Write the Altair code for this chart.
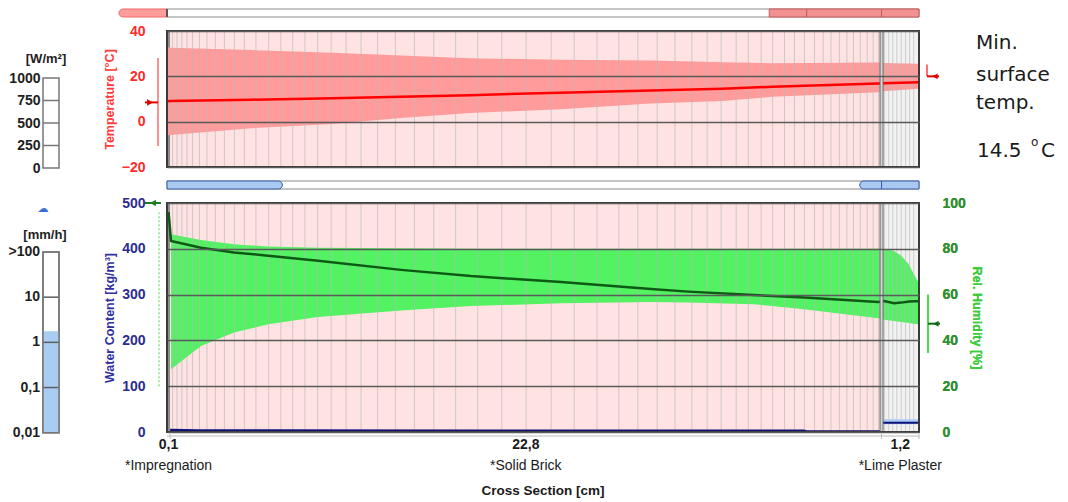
import math
import altair as alt
import pandas as pd

# ---------------- data ----------------
X_MAX = 24.1  # total cross section [cm]
layer_names = ["*Impregnation", "*Solid Brick", "*Lime Plaster"]
layer_thickness = ["0,1", "22,8", "1,2"]
layer_start = [0.0, 0.1, 22.9]
layer_end = [0.1, 22.9, 24.1]
layer_bg = ["#8E8E8E", "#FFE2E2", "#F2F2F2"]
layer_mid = [(a + b) / 2 for a, b in zip(layer_start, layer_end)]

mesh_brick = [0.18, 0.32, 0.48, 0.64, 0.82, 1.04, 1.28, 1.55, 1.84, 2.16, 2.48, 2.85,
              3.26, 3.65, 4.03, 4.42, 4.83, 5.26, 5.74, 6.22, 6.75, 7.32, 7.93, 8.55,
              9.25, 9.96, 10.73, 11.51, 12.31, 13.05, 13.78, 14.48, 15.09, 15.71, 16.28,
              16.82, 17.31, 17.76, 18.24, 18.63, 19.04, 19.41, 19.79, 20.11, 20.43, 20.75,
              21.03, 21.28, 21.55, 21.79, 22.0, 22.22, 22.44, 22.63, 22.81]
mesh_plaster = [23.0, 23.13, 23.26, 23.39, 23.53, 23.67, 23.8, 23.93]

temp_x = [0.0, 0.1, 2.7, 5.3, 7.5, 9.7, 12.6, 15.5, 17.8, 19.4, 22.8, 22.95, 24.1]
temp_hi = [33.0, 32.6, 31.6, 30.4, 29.2, 28.0, 27.3, 27.0, 26.2, 25.8, 26.1, 25.9, 25.6]
temp_lo = [-6.0, -5.9, -2.9, -1.0, 1.6, 3.8, 5.5, 8.0, 9.1, 11.0, 13.0, 13.4, 14.5]
temp_mean = [9.0, 9.1, 9.7, 10.3, 11.0, 11.7, 12.8, 13.8, 14.5, 15.4, 16.8, 16.9, 17.4]

rh_x = [0.13, 1.09, 2.15, 3.24, 4.84, 7.5, 9.74, 12.63, 15.51, 16.7, 18.81, 20.42, 22.79,
        22.98, 23.3, 23.53, 23.78, 23.97, 24.1]
rh_hi = [86.4, 83.8, 82.0, 81.0, 80.5, 80.2, 80.0, 80.0, 80.0, 80.0, 80.0, 80.0, 80.0,
         80.0, 79.0, 77.0, 73.0, 68.0, 65.0]
rh_lo = [27.4, 37.6, 43.4, 47.0, 50.2, 53.1, 55.0, 56.2, 56.8, 56.5, 55.8, 53.6, 49.7,
         49.0, 48.5, 48.0, 47.6, 47.2, 47.0]
rh_mean_x = [0.05] + rh_x
rh_mean = [96.0, 83.4, 80.5, 78.4, 77.0, 74.8, 70.8, 68.1, 65.5, 62.4, 61.3, 59.8, 58.7, 56.8,
           57.2, 56.2, 56.5, 57.0, 57.1, 57.1]

wc_x = [0.1, 1.0, 10.0, 20.4, 20.5, 22.9]
wc_mean = [4.5, 3.5, 3.0, 3.0, 1.2, 1.2]
wc_pl_x = [22.95, 24.1]
wc_pl_mean = [20.0, 20.0]
wc_pl_lo = [17.0, 17.0]
wc_pl_hi = [28.0, 28.0]

# boundary climate indicators
temp_left_range = [-10.7, 28.1]
temp_left_now = 8.5
temp_right_range = [20.0, 25.2]
temp_right_now = 20.0
wc_left_range = [100, 483]
wc_left_now = 500
rh_right_range = [34.5, 60.0]
rh_right_now = 47.3

solar_ticks = [0, 250, 500, 750, 1000]
rain_ticks = [0.01, 0.1, 1, 10, 100]
rain_labels = ["0,01", "0,1", "1", "10", ">100"]
rain_now = 1.75

top_caps = [-1.54, 0.0]
top_segs_start = [19.3, 20.5, 22.9]
top_segs_end = [20.5, 22.9, 24.1]
blue_left = [0.0, 3.7]
blue_right_start = [22.2, 22.9]
blue_right_end = [22.9, 24.1]

note_lines = ["Min.", "surface", "temp."]
min_surface_temp = "14.5"

# ---------------- layout / styles ----------------
W, HT, HL, HS, GW = 752, 136, 229, 8, 16
GX = -124  # left edge of the rain gauge, relative to the moisture panel
LAB = "Liberation Sans"

xs = alt.Scale(domain=[0, X_MAX], nice=False, zero=False)
one = pd.DataFrame({"a": [0]})
layers_df = pd.DataFrame({"name": layer_names, "thick": layer_thickness, "start": layer_start,
                          "end": layer_end, "bg": layer_bg, "mid": layer_mid})
mesh_df = pd.DataFrame({"x": mesh_brick + mesh_plaster})
bound_df = pd.DataFrame({"x": [layer_start[2]]})


def X(field):
    return alt.X(field, scale=xs, axis=None)


def backgrounds(h):
    return alt.Chart(layers_df).mark_rect().encode(
        x=X("start:Q"), x2="end:Q", y=alt.value(0), y2=alt.value(h),
        color=alt.Color("bg:N", scale=None, legend=None))


def mesh():
    return alt.Chart(mesh_df).mark_rule(color="#B8B8B8", strokeWidth=1, opacity=0.65).encode(x=X("x:Q"))


def boundary():
    a = alt.Chart(bound_df).mark_rule(color="#6A6A6A", strokeWidth=4).encode(x=X("x:Q"))
    b = alt.Chart(bound_df).mark_rule(color="#D4D4D4", strokeWidth=2).encode(x=X("x:Q"))
    return [a, b]


def border(h):
    return alt.Chart(one).mark_rect(filled=False, stroke="#3A3A3A", strokeWidth=2).encode(
        x=alt.value(0), x2=alt.value(W), y=alt.value(0), y2=alt.value(h))


def axis_style(**kw):
    base = dict(ticks=False, domain=False, labelFont=LAB, labelFontWeight="bold", labelFontSize=14,
                titleFont=LAB, titleFontWeight="bold", titleFontSize=12.5, titlePadding=5)
    base.update(kw)
    return alt.Axis(**base)


# ---------------- temperature panel ----------------
ts = alt.Scale(domain=[-20, 40], nice=False, zero=False)
t_axis = axis_style(values=[-20, 0, 20, 40], grid=True, gridColor="#5A5A5A", gridWidth=1.5,
                    labelColor="#FF2A2A", labelPadding=22, title="Temperature [°C]",
                    titleColor="#FF3A3A", zindex=1)


def TY(field):
    return alt.Y(field, scale=ts, axis=t_axis)


temp_df = pd.DataFrame({"x": temp_x, "lo": temp_lo, "hi": temp_hi, "mean": temp_mean})
t_band = alt.Chart(temp_df).mark_area(color="#FF9B9B").encode(x=X("x:Q"), y=TY("lo:Q"), y2="hi:Q")
t_line = alt.Chart(temp_df).mark_line(color="#FF0000", strokeWidth=2.5).encode(x=X("x:Q"), y=TY("mean:Q"))

tl_df = pd.DataFrame({"lo": [temp_left_range[0]], "hi": [temp_left_range[1]], "v": [temp_left_now]})
tr_df = pd.DataFrame({"lo": [temp_right_range[0]], "hi": [temp_right_range[1]], "v": [temp_right_now]})
t_marks = [
    alt.Chart(tl_df).mark_rule(color="#FF6A6A", strokeWidth=1.5).encode(
        x=alt.value(-9), y=TY("lo:Q"), y2="hi:Q"),
    alt.Chart(tl_df).mark_rule(color="#E00000", strokeWidth=2).encode(
        x=alt.value(-22), x2=alt.value(-9), y=TY("v:Q")),
    alt.Chart(tl_df).mark_point(shape="triangle-right", filled=True, color="#E00000", size=45, opacity=1).encode(
        x=alt.value(-17), y=TY("v:Q")),
    alt.Chart(tr_df).mark_rule(color="#FF4040", strokeWidth=1.5).encode(
        x=alt.value(W + 8), y=TY("lo:Q"), y2="hi:Q"),
    alt.Chart(tr_df).mark_rule(color="#E00000", strokeWidth=2).encode(
        x=alt.value(W + 8), x2=alt.value(W + 20), y=TY("v:Q")),
    alt.Chart(tr_df).mark_point(shape="triangle-left", filled=True, color="#E00000", size=35, opacity=1).encode(
        x=alt.value(W + 16), y=TY("v:Q")),
]

note_y = [18, 50, 78]
notes = [alt.Chart(one).mark_text(font="DejaVu Sans", fontSize=20, align="left", baseline="alphabetic",
                                  color="#1A1A1A").encode(x=alt.value(809), y=alt.value(yy), text=alt.value(t))
         for t, yy in zip(note_lines, note_y)]
notes += [
    alt.Chart(one).mark_text(font="DejaVu Sans", fontSize=20, align="left", baseline="alphabetic",
                             color="#1A1A1A").encode(x=alt.value(810), y=alt.value(126), text=alt.value(min_surface_temp)),
    alt.Chart(one).mark_text(font="DejaVu Sans", fontSize=12, align="left", baseline="alphabetic",
                             color="#1A1A1A").encode(x=alt.value(864), y=alt.value(115), text=alt.value("o")),
    alt.Chart(one).mark_text(font="DejaVu Sans", fontSize=20, align="left", baseline="alphabetic",
                             color="#1A1A1A").encode(x=alt.value(874), y=alt.value(126), text=alt.value("C")),
]

temp_chart = alt.layer(
    backgrounds(HT), t_band, mesh(), t_line, *boundary(), border(HT), *t_marks, *notes
).properties(width=W, height=HT)

# ---------------- moisture panel ----------------
ws = alt.Scale(domain=[0, 500], nice=False, zero=False)
rs = alt.Scale(domain=[0, 100], nice=False, zero=False)
w_axis = axis_style(values=[0, 100, 200, 300, 400, 500], grid=True, gridColor="#5A5A5A", gridWidth=1.5,
                    labelColor="#2C2C8E", labelPadding=22, title="Water Content [kg/m³]",
                    titleColor="#3030A0", zindex=1)
r_axis = axis_style(orient="right", values=[0, 20, 40, 60, 80, 100], grid=False,
                    labelColor="#2F8F2F", labelPadding=23, title="Rel. Humidity [%]",
                    titleColor="#3CCB3C", titlePadding=4)


def WY(field):
    return alt.Y(field, scale=ws, axis=w_axis)


def RY(field):
    return alt.Y(field, scale=rs, axis=r_axis)


rh_df = pd.DataFrame({"x": rh_x, "lo": rh_lo, "hi": rh_hi})
rhm_df = pd.DataFrame({"x": rh_mean_x, "mean": rh_mean})
wc_df = pd.DataFrame({"x": wc_x, "mean": wc_mean})
wcp_df = pd.DataFrame({"x": wc_pl_x, "mean": wc_pl_mean, "lo": wc_pl_lo, "hi": wc_pl_hi})

rh_band = alt.Chart(rh_df).mark_area(color="#52F263").encode(x=X("x:Q"), y=RY("lo:Q"), y2="hi:Q")
rh_lines = alt.layer(
    alt.Chart(rhm_df).mark_line(color="#0E5A14", strokeWidth=2.5).encode(x=X("x:Q"), y=RY("mean:Q")),
    alt.Chart(pd.DataFrame({"lo": [rh_right_range[0]], "hi": [rh_right_range[1]]}))
    .mark_rule(color="#4BE04B", strokeWidth=2).encode(x=alt.value(W + 9), y=RY("lo:Q"), y2="hi:Q"),
    alt.Chart(pd.DataFrame({"v": [rh_right_now]})).mark_rule(color="#0E6A14", strokeWidth=2).encode(
        x=alt.value(W + 9), x2=alt.value(W + 21), y=RY("v:Q")),
    alt.Chart(pd.DataFrame({"v": [rh_right_now]})).mark_point(
        shape="triangle-left", filled=True, color="#0E6A14", size=35, opacity=1).encode(
        x=alt.value(W + 17), y=RY("v:Q")),
)
wc_layer = alt.layer(
    alt.Chart(wcp_df).mark_area(color="#A8CCF4").encode(x=X("x:Q"), y=WY("lo:Q"), y2="hi:Q"),
    alt.Chart(wc_df).mark_line(color="#10107A", strokeWidth=2.5).encode(x=X("x:Q"), y=WY("mean:Q")),
    alt.Chart(wcp_df).mark_line(color="#10107A", strokeWidth=2).encode(x=X("x:Q"), y=WY("mean:Q")),
    alt.Chart(pd.DataFrame({"lo": [wc_left_range[0]], "hi": [wc_left_range[1]]})).mark_rule(
        color="#8AE88A", strokeWidth=1.5, strokeDash=[2, 2]).encode(x=alt.value(-8), y=WY("lo:Q"), y2="hi:Q"),
    alt.Chart(pd.DataFrame({"v": [wc_left_now]})).mark_rule(color="#1E7A1E", strokeWidth=2).encode(
        x=alt.value(-22), x2=alt.value(-6), y=WY("v:Q")),
    alt.Chart(pd.DataFrame({"v": [wc_left_now]})).mark_point(
        shape="triangle-left", filled=True, color="#1E7A1E", size=45, opacity=1).encode(
        x=alt.value(-14), y=WY("v:Q")),
)

# rain gauge (log axis: values expressed in decades)
rain_dec = [math.log10(v) for v in rain_ticks]
rsg = alt.Scale(domain=[rain_dec[0], rain_dec[-1]], range=[HL + 0.7, 49], nice=False, zero=False)


def GY(field):
    return alt.Y(field, scale=rsg, axis=None)


rain_layer = alt.layer(
    alt.Chart(pd.DataFrame({"lo": [rain_dec[0]], "hi": [rain_dec[-1]]})).mark_rect(
        fill="white", stroke="#777777", strokeWidth=1.5).encode(
        x=alt.value(GX), x2=alt.value(GX + GW), y=GY("lo:Q"), y2="hi:Q"),
    alt.Chart(pd.DataFrame({"lo": [rain_dec[0]], "hi": [math.log10(rain_now)]})).mark_rect(
        fill="#A9CDF2").encode(
        x=alt.value(GX), x2=alt.value(GX + GW), y=GY("lo:Q"), y2="hi:Q"),
    alt.Chart(pd.DataFrame({"v": rain_dec[1:-1]})).mark_rule(color="#5E5E5E", strokeWidth=1.5).encode(
        x=alt.value(GX), x2=alt.value(GX + GW), y=GY("v:Q")),
    alt.Chart(pd.DataFrame({"lo": [rain_dec[0]], "hi": [rain_dec[-1]]})).mark_rect(
        filled=False, stroke="#777777", strokeWidth=1.5).encode(
        x=alt.value(GX), x2=alt.value(GX + GW), y=GY("lo:Q"), y2="hi:Q"),
    alt.Chart(pd.DataFrame({"v": rain_dec, "t": rain_labels})).mark_text(
        font=LAB, fontWeight="bold", fontSize=14, align="right", baseline="middle", color="#1E1E1E").encode(
        x=alt.value(GX - 3), y=GY("v:Q"), text="t:N"),
)
rain_texts = [
    alt.Chart(one).mark_text(font=LAB, fontWeight="bold", fontSize=13, color="#1E1E1E").encode(
        x=alt.value(GX + 2), y=alt.value(32), text=alt.value("[mm/h]")),
    alt.Chart(one).mark_text(font="DejaVu Sans", fontSize=11, color="#3A6FD8").encode(
        x=alt.value(GX), y=alt.value(6), text=alt.value("☁")),
]

bottom = [
    alt.Chart(one).mark_rule(color="#BBBBBB", strokeWidth=1).encode(
        x=alt.value(0), x2=alt.value(W), y=alt.value(HL + 4)),
    alt.Chart(layers_df).mark_rule(color="#BBBBBB", strokeWidth=1).encode(
        x=X("end:Q"), y=alt.value(HL + 2), y2=alt.value(HL + 7)),
    alt.Chart(layers_df).mark_text(font=LAB, fontWeight="bold", fontSize=14, baseline="middle",
                                   color="#1A1A1A").encode(x=X("mid:Q"), y=alt.value(HL + 13), text="thick:N"),
    alt.Chart(layers_df).mark_text(font=LAB, fontSize=14, baseline="middle",
                                   color="#1A1A1A").encode(x=X("mid:Q"), y=alt.value(HL + 34), text="name:N"),
    alt.Chart(one).mark_text(font=LAB, fontWeight="bold", fontSize=13.5, baseline="middle",
                             color="#1A1A1A").encode(x=alt.value(W / 2), y=alt.value(HL + 59),
                                                     text=alt.value("Cross Section [cm]")),
]

lower_chart = alt.layer(
    backgrounds(HL), rh_band, mesh(), rh_lines, wc_layer, *boundary(), border(HL), *bottom,
    rain_layer, *rain_texts
).resolve_scale(y="independent").properties(width=W, height=HL)

# ---------------- strips ----------------
def white_bar():
    return alt.Chart(pd.DataFrame({"s": [0.0], "e": [X_MAX]})).mark_rect(
        fill="white", stroke="#8A8A8A", strokeWidth=1).encode(
        x=X("s:Q"), x2="e:Q", y=alt.value(0), y2=alt.value(HS))


top_strip = alt.layer(
    white_bar(),
    alt.Chart(pd.DataFrame({"s": [top_caps[0]], "e": [top_caps[1]]})).mark_rect(
        fill="#FF9C9C", stroke="#F06A6A", strokeWidth=1, cornerRadiusTopLeft=4, cornerRadiusBottomLeft=4).encode(
        x=X("s:Q"), x2="e:Q", y=alt.value(0), y2=alt.value(HS)),
    alt.Chart(pd.DataFrame({"s": top_segs_start, "e": top_segs_end})).mark_rect(
        fill="#F29191", stroke="#C85A5A", strokeWidth=1).encode(
        x=X("s:Q"), x2="e:Q", y=alt.value(0), y2=alt.value(HS)),
    alt.Chart(pd.DataFrame({"s": [top_caps[1]]})).mark_rule(color="#555555", strokeWidth=2).encode(
        x=X("s:Q"), y=alt.value(0), y2=alt.value(HS)),
).properties(width=W, height=HS)

blue_strip = alt.layer(
    white_bar(),
    alt.Chart(pd.DataFrame({"s": [blue_left[0]], "e": [blue_left[1]]})).mark_rect(
        fill="#A9C9F0", stroke="#3B5BA8", strokeWidth=1, cornerRadiusTopRight=4, cornerRadiusBottomRight=4).encode(
        x=X("s:Q"), x2="e:Q", y=alt.value(0), y2=alt.value(HS)),
    alt.Chart(pd.DataFrame({"s": blue_right_start[:1], "e": blue_right_end[:1]})).mark_rect(
        fill="#A9C9F0", stroke="#3B5BA8", strokeWidth=1, cornerRadiusTopLeft=4, cornerRadiusBottomLeft=4).encode(
        x=X("s:Q"), x2="e:Q", y=alt.value(0), y2=alt.value(HS)),
    alt.Chart(pd.DataFrame({"s": blue_right_start[1:], "e": blue_right_end[1:]})).mark_rect(
        fill="#A9C9F0", stroke="#3B5BA8", strokeWidth=1).encode(
        x=X("s:Q"), x2="e:Q", y=alt.value(0), y2=alt.value(HS)),
).properties(width=W, height=HS)

# ---------------- solar gauge ----------------
g_common = dict(ticks=False, domain=False, grid=False, labelPadding=3, labelFont=LAB,
                labelFontWeight="bold", labelFontSize=14, labelColor="#1E1E1E", title=None)
gs = alt.Scale(domain=[solar_ticks[0], solar_ticks[-1]], range=[HT + 1, 47], nice=False, zero=False)
gw_axis = alt.Axis(values=solar_ticks, format="d", **g_common)
gauge_w = alt.layer(
    alt.Chart(pd.DataFrame({"lo": [solar_ticks[0]], "hi": [solar_ticks[-1]]})).mark_rect(
        fill="white", stroke="#777777", strokeWidth=1.5).encode(
        x=alt.value(0), x2=alt.value(GW), y=alt.Y("lo:Q", scale=gs, axis=gw_axis), y2="hi:Q"),
    alt.Chart(pd.DataFrame({"v": solar_ticks[1:-1]})).mark_rule(color="#777777", strokeWidth=1.5).encode(
        x=alt.value(0), x2=alt.value(GW), y=alt.Y("v:Q", scale=gs, axis=gw_axis)),
    alt.Chart(one).mark_text(font=LAB, fontWeight="bold", fontSize=13, color="#1E1E1E").encode(
        x=alt.value(3), y=alt.value(28), text=alt.value("[W/m²]")),
).properties(width=GW, height=HT)


def blank(h=HS):
    return alt.Chart(one).mark_point(opacity=0, size=1).encode(
        x=alt.value(GW / 2), y=alt.value(h / 2)).properties(width=GW, height=h)


chart = alt.concat(
    blank(), top_strip,
    gauge_w, temp_chart,
    blank(), blue_strip,
    blank(), lower_chart,
    columns=2, spacing={"row": 14, "column": 108}, bounds="flush",
).properties(padding=0).configure_view(stroke=None)

chart.save("out.html", embed_options={"renderer": "svg", "actions": False})
